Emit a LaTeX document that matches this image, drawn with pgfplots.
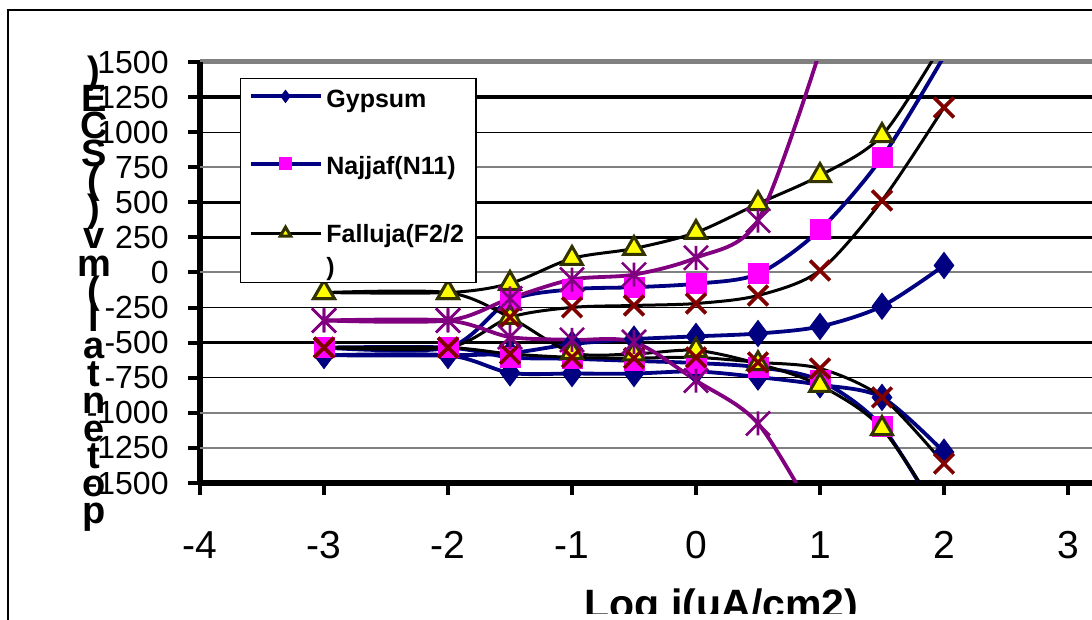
\documentclass[border=0pt]{standalone}
\usepackage{fontspec}
\setmainfont{Liberation Sans}
\usepackage{pgfplots}
\pgfplotsset{compat=1.18}
\definecolor{navy}{HTML}{000080}
\definecolor{mag}{HTML}{FF00FF}
\definecolor{dred}{HTML}{800000}
\definecolor{purp}{HTML}{800080}
\definecolor{olivedk}{HTML}{333300}
\definecolor{yel}{HTML}{FFFF00}
\definecolor{gridgray}{HTML}{808080}
\pgfdeclareplotmark{xstar}{%
  \pgfpathmoveto{\pgfqpoint{-\pgfplotmarksize}{-\pgfplotmarksize}}%
  \pgfpathlineto{\pgfqpoint{\pgfplotmarksize}{\pgfplotmarksize}}%
  \pgfpathmoveto{\pgfqpoint{-\pgfplotmarksize}{\pgfplotmarksize}}%
  \pgfpathlineto{\pgfqpoint{\pgfplotmarksize}{-\pgfplotmarksize}}%
  \pgfpathmoveto{\pgfqpoint{0pt}{-\pgfplotmarksize}}%
  \pgfpathlineto{\pgfqpoint{0pt}{\pgfplotmarksize}}%
  \pgfusepathqstroke}
\pgfplotsset{
  stdimg/.style={legend image code/.code={\draw[mark repeat=2,mark phase=2,##1] plot coordinates {(0pt,0pt)(17.5pt,0pt)(35pt,0pt)};}},
  fallimg/.style={legend image code/.code={\draw[mark repeat=2,mark phase=2,##1] plot coordinates {(0pt,7.5pt)(17.5pt,7.5pt)(35pt,7.5pt)};}},
}
\newcommand{\ylabfont}{\bfseries\fontsize{19}{13.75}\selectfont\setlength{\lineskiplimit}{-30pt}}
\newcommand{\lstrut}{\rule{0pt}{12.3pt}}
\begin{document}
\begin{tikzpicture}
\useasboundingbox (0,0) rectangle (546pt,310pt);
\clip (0,0) rectangle (546pt,310pt);
\fill[white] (0,0) rectangle (546pt,310pt);
\draw[line width=1pt] (4pt,305pt) rectangle (600pt,-20pt);
\draw[gridgray, line width=2.5pt] (100pt,279.25pt) -- (560pt,279.25pt);
\begin{axis}[
  at={(100pt,68.5pt)}, anchor=south west,
  scale only axis, width=458.8pt, height=210.5pt,
  xmin=-4, xmax=3.4, ymin=-1500, ymax=1500,
  axis x line=bottom, axis y line=left,
  axis line style={-, line width=3pt},
  xtick={-4,-3,-2,-1,0,1,2,3}, ytick={-1500,-1250,...,1500},
  tick align=outside, major tick length=6pt,
  tick style={black, line width=2pt},
  /pgf/number format/assume math mode=true,
  /pgf/number format/1000 sep={},
  xticklabel style={font=\fontsize{19.5}{20}\selectfont, anchor=north, inner sep=0pt, yshift=-18pt},
  yticklabel style={font=\fontsize{16}{17}\selectfont, anchor=east, inner sep=0pt, xshift=-9.5pt},
  xlabel={Log i(uA/cm2)},
  xlabel style={font=\bfseries\fontsize{20.5}{22}\selectfont, at={(axis description cs:0.5683,-0.3207)}, anchor=base},
  ylabel={)\\E\\C\\S\\(\\)\\v\\m\\(\\l\\a\\t\\n\\e\\t\\o\\p},
  ylabel style={font=\ylabfont, align=center, rotate=-90, at={(axis description cs:-0.1155,0.449)}, anchor=center},
  legend style={at={(axis description cs:0.0436,0.962)}, anchor=north west, draw=black, line width=0.6pt, fill=white,
    font=\bfseries\fontsize{12.5}{13.5}\selectfont, row sep=16pt, inner xsep=4pt, inner ysep=0pt, cells={align=left}},
  legend cell align=left,
  stdimg,
  legend image post style={mark size=3pt},
]
% grid lines
\addplot[forget plot, black, line width=1.7pt] coordinates {(-4,1250)(3.4,1250)};
\addplot[forget plot, black, line width=1.7pt] coordinates {(-4,500)(3.4,500)};
\addplot[forget plot, black, line width=1.7pt] coordinates {(-4,250)(3.4,250)};
\addplot[forget plot, black, line width=1.7pt] coordinates {(-4,-500)(3.4,-500)};
\addplot[forget plot, black, line width=0.6pt] coordinates {(-4,1000)(3.4,1000)};
\addplot[forget plot, black, line width=0.6pt] coordinates {(-4,-250)(3.4,-250)};
\addplot[forget plot, black, line width=0.6pt] coordinates {(-4,-750)(3.4,-750)};
\addplot[forget plot, gridgray, line width=1pt] coordinates {(-4,750)(3.4,750)};
\addplot[forget plot, gridgray, line width=1pt] coordinates {(-4,0)(3.4,0)};
\addplot[forget plot, gridgray, line width=1pt] coordinates {(-4,-1000)(3.4,-1000)};
\addplot[forget plot, gridgray, line width=1pt] coordinates {(-4,-1250)(3.4,-1250)};
% Gypsum
\addplot[navy, line width=1.9pt, smooth, mark=diamond*, mark size=6.5pt, mark options={solid, fill=navy, draw=navy, line width=0.5pt}]
  coordinates {(-3,-590)(-2,-590)(-1.5,-575)(-1,-510)(-0.5,-475)(0,-455)(0.5,-435)(1,-385)(1.5,-240)(2,50)};
\addlegendentry{\lstrut Gypsum}
\addplot[forget plot, navy, line width=1.9pt, smooth, mark=diamond*, mark size=6.5pt, mark options={solid, fill=navy, draw=navy, line width=0.5pt}]
  coordinates {(-3,-590)(-2,-590)(-1.5,-715)(-1,-720)(-0.5,-720)(0,-705)(0.5,-745)(1,-800)(1.5,-890)(2,-1280)};
% Najjaf
\addplot[navy, line width=1.9pt, smooth, mark=square*, mark size=5pt, mark options={solid, fill=mag, draw=mag, line width=0.5pt}]
  coordinates {(-3,-535)(-2,-535)(-1.5,-200)(-1,-120)(-0.5,-105)(0,-80)(0.5,-10)(1,305)(1.5,820)(2,1540)};
\addlegendentry{\lstrut Najjaf(N11)}
\addplot[forget plot, navy, line width=1.9pt, smooth, mark=square*, mark size=5pt, mark options={solid, fill=mag, draw=mag, line width=0.5pt}]
  coordinates {(-3,-535)(-2,-535)(-1.5,-605)(-1,-615)(-0.5,-630)(0,-645)(0.5,-675)(1,-770)(1.5,-1100)(2,-1800)};
% Falluja
\addplot[black, line width=1.5pt, smooth, mark=triangle*, mark size=6pt, mark options={solid, fill=yel, draw=olivedk, line width=1.5pt}, fallimg]
  coordinates {(-3,-143)(-2,-143)(-1.5,-78)(-1,100)(-0.5,171)(0,285)(0.5,490)(1,691)(1.5,976)(2,1650)};
\addlegendentry{\lstrut Falluja(F2/2\\[3pt])}
\addplot[forget plot, black, line width=1.5pt, smooth, mark=triangle*, mark size=6pt, mark options={solid, fill=yel, draw=olivedk, line width=1.5pt}]
  coordinates {(-3,-143)(-2,-143)(-1.5,-320)(-1,-570)(-0.5,-580)(0,-555)(0.5,-650)(1,-805)(1.5,-1112)(2,-1780)};
% fourth series (x marks)
\addplot[forget plot, black, line width=1.5pt, smooth, mark=x, mark size=7pt, mark options={solid, draw=dred, line width=1.8pt}]
  coordinates {(-3,-535)(-2,-535)(-1.5,-320)(-1,-249)(-0.5,-235)(0,-221)(0.5,-164)(1,14)(1.5,513)(2,1176)};
\addplot[forget plot, black, line width=1.5pt, smooth, mark=x, mark size=7pt, mark options={solid, draw=dred, line width=1.8pt}]
  coordinates {(-3,-535)(-2,-535)(-1.5,-580)(-1,-605)(-0.5,-610)(0,-605)(0.5,-640)(1,-684)(1.5,-890)(2,-1362)};
% fifth series (stars)
\addplot[forget plot, purp, line width=1.9pt, smooth, mark=xstar, mark size=6pt, mark options={solid, draw=purp, line width=1.3pt}]
  coordinates {(-3,-342)(-2,-342)(-1.5,-185)(-1,-50)(-0.5,-15)(0,105)(0.5,370)(1,1580)};
\addplot[forget plot, purp, line width=1.9pt, smooth, mark=xstar, mark size=6pt, mark options={solid, draw=purp, line width=1.3pt}]
  coordinates {(-3,-342)(-2,-342)(-1.5,-460)(-1,-480)(-0.5,-495)(0,-770)(0.5,-1076)(1,-1800)};
\end{axis}
\fill[white] (12pt,0pt) rectangle (546pt,3pt);
\end{tikzpicture}
\end{document}
